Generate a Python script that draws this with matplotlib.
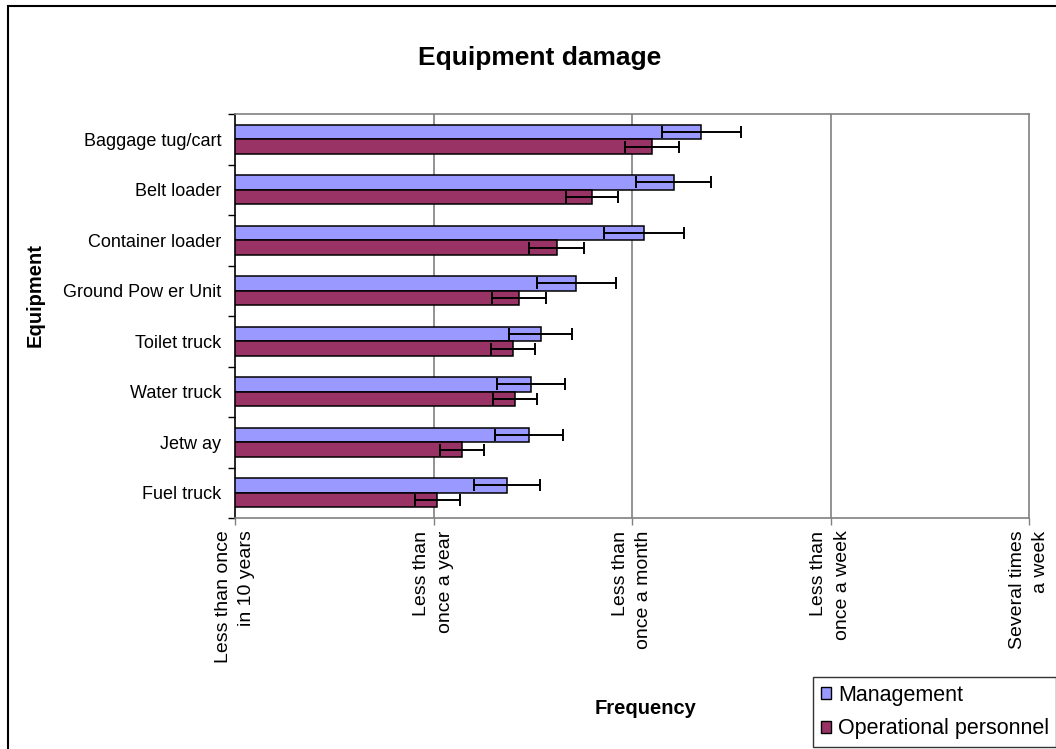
import numpy as np
import matplotlib
matplotlib.use("Agg")
import matplotlib.pyplot as plt
from matplotlib.patches import Rectangle, Patch

plt.rcParams['font.family'] = ['Liberation Sans', 'DejaVu Sans']

# data (1 = less than once in 10 years ... 5 = several times a week)
equipment = ["Baggage tug/cart", "Belt loader", "Container loader", "Ground Pow er Unit",
             "Toilet truck", "Water truck", "Jetw ay", "Fuel truck"]
management = [3.35, 3.21, 3.06, 2.72, 2.54, 2.49, 2.48, 2.37]
management_err = [0.20, 0.19, 0.20, 0.20, 0.16, 0.17, 0.17, 0.165]
operational = [3.10, 2.80, 2.62, 2.43, 2.40, 2.41, 2.145, 2.02]
operational_err = [0.135, 0.13, 0.14, 0.135, 0.11, 0.11, 0.11, 0.115]
freq_labels = ["Less than once\nin 10 years", "Less than\nonce a year", "Less than\nonce a month",
               "Less than\nonce a week", "Several times\na week"]

mgmt_color = "#9999FF"
oper_color = "#993366"
grid_gray = "#808080"

fig = plt.figure(figsize=(10.56, 7.49), dpi=100)
ax = fig.add_axes([235/1056, 1 - 518/749, (1029 - 235)/1056, (518 - 114)/749])

y = np.arange(len(equipment))
h = 0.29
err_kw = dict(ecolor="black", elinewidth=1.4, capsize=4, capthick=1.4)
ax.barh(y - h/2, np.array(management) - 1, left=1, height=h, color=mgmt_color,
        edgecolor="black", linewidth=1.1, xerr=management_err, error_kw=err_kw, zorder=3)
ax.barh(y + h/2, np.array(operational) - 1, left=1, height=h, color=oper_color,
        edgecolor="black", linewidth=1.1, xerr=operational_err, error_kw=err_kw, zorder=3)

ax.set_xlim(1, 5)
ax.set_ylim(len(equipment) - 0.5, -0.5)

for xv in [2, 3, 4]:
    ax.axvline(xv, color=grid_gray, linewidth=1.2, zorder=1)

ax.set_xticks([1, 2, 3, 4, 5])
ax.set_xticklabels(freq_labels, rotation=90, fontsize=14, multialignment="right",
                   linespacing=1.5)
ax.tick_params(axis="x", direction="out", length=5, width=1, color=grid_gray, pad=4)

ax.set_yticks(y)
ax.set_yticklabels(equipment, fontsize=13)
ax.tick_params(axis="y", which="major", length=0, pad=10)
ax.set_yticks(np.arange(-0.5, len(equipment)), minor=True)
ax.tick_params(axis="y", which="minor", direction="out", length=5, width=1, color="black")

for s in ["top", "right", "bottom"]:
    ax.spines[s].set_color(grid_gray)
    ax.spines[s].set_linewidth(1.2)
ax.spines["left"].set_color("black")
ax.spines["left"].set_linewidth(1.2)

fig.text(540/1056, 1 - 58/749, "Equipment damage", ha="center", va="center",
         fontsize=19, fontweight="bold")
fig.text(35/1056, 1 - 295/749, "Equipment", ha="center", va="center", rotation=90,
         fontsize=14.5, fontweight="bold")
fig.text(646/1056, 1 - 709/749, "Frequency", ha="center", va="center",
         fontsize=14.5, fontweight="bold")

handles = [Patch(facecolor=mgmt_color, edgecolor="black", linewidth=1),
           Patch(facecolor=oper_color, edgecolor="black", linewidth=1)]
leg = fig.legend(handles, ["Management", "Operational personnel"], loc="upper left",
                 bbox_to_anchor=(813/1056, 1 - 677/749), fontsize=15.5, frameon=True,
                 fancybox=False, edgecolor="black", borderaxespad=0, handlelength=0.5,
                 handleheight=0.5, handletextpad=0.3, labelspacing=0.6, borderpad=0.35)
leg.get_frame().set_linewidth(1)

# outer chart border
fig.patches.append(Rectangle((8/1056, -0.1), 1.2, 1.1 - 6/749, transform=fig.transFigure,
                             fill=False, edgecolor="black", linewidth=1.5))

fig.savefig("out.png", dpi=100)
